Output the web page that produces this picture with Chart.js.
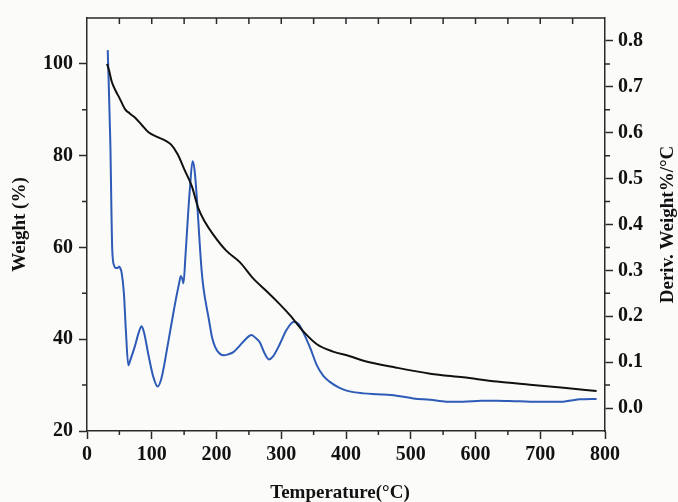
<!DOCTYPE html>
<html>
<head>
<meta charset="utf-8">
<script src="https://cdn.jsdelivr.net/npm/chart.js@4.4.1/dist/chart.umd.min.js"></script>
<style>
    html, body { margin: 0; padding: 0; background: #fbfbf9; }
    #wrap { width: 678px; height: 502px; position: relative; }
</style>
</head>
<body>
<div id="wrap"><canvas id="tgaChart"></canvas></div>
<script>
// TG-Kurve (Gewicht %, linke Achse)
const tgTemp = [31, 34, 38, 44, 50, 59, 66, 74, 84, 95, 110, 121, 130, 140, 151, 162, 172, 182, 195, 215,
    236, 257, 277, 293, 313, 334, 355, 380, 406, 427, 478, 530, 581, 633, 684, 736, 787];
const tgWeight = [100.0, 98.6, 96.2, 94.2, 92.6, 90.1, 89.2, 88.3, 86.8, 85.1, 84.0, 83.3, 82.4, 80.3, 76.8, 73.3, 68.5, 65.6, 62.8, 59.3,
    56.8, 53.2, 50.5, 48.3, 45.3, 41.7, 38.9, 37.3, 36.3, 35.3, 33.8, 32.5, 31.7, 30.8, 30.1, 29.4, 28.7];

// DTG-Kurve (Deriv. Weight %/°C, rechte Achse)
const dtgTemp = [32, 36, 39, 42, 44, 47, 49.5, 51, 53.6, 57, 60, 63.8, 67, 74, 80, 84.4, 88, 95, 102, 109,
    115, 125, 135, 142, 145, 147.5, 149, 152, 156, 159, 163, 166, 170, 174, 177, 180, 188, 193, 198, 204,
    210.5, 218, 226, 236, 245, 254, 261, 267, 274, 281, 287, 298, 308, 319.7, 327, 334, 345, 355, 365, 375,
    390, 401, 427, 450, 478, 504, 530, 555, 581, 610, 633, 660, 684, 710, 736, 750, 761, 787];
const dtgDeriv = [0.78, 0.58, 0.345, 0.31, 0.305, 0.305, 0.308, 0.306, 0.294, 0.25, 0.17, 0.093, 0.105, 0.135, 0.165, 0.178, 0.165, 0.115, 0.07, 0.047,
    0.065, 0.14, 0.22, 0.27, 0.288, 0.28, 0.272, 0.33, 0.42, 0.48, 0.538, 0.52, 0.45, 0.36, 0.30, 0.26, 0.195, 0.155, 0.133, 0.12,
    0.115, 0.117, 0.122, 0.136, 0.15, 0.159, 0.152, 0.143, 0.12, 0.106, 0.112, 0.14, 0.17, 0.188, 0.183, 0.165, 0.13, 0.093, 0.07, 0.057,
    0.044, 0.038, 0.032, 0.03, 0.027, 0.021, 0.018, 0.014, 0.014, 0.016, 0.016, 0.015, 0.014, 0.014, 0.014, 0.017, 0.019, 0.02];

// Achsenbeschriftungen
const xTicks = [0, 100, 200, 300, 400, 500, 600, 700, 800];
const xMinorTicks = [50, 150, 250, 350, 450, 550, 650, 750];
const xTopTicks = [50, 100, 150, 200, 250, 300, 350, 400, 450, 500, 550, 600, 650, 700, 750];
const yLeftTicks = [20, 40, 60, 80, 100];
const yLeftMinor = [30, 50, 70, 90];
const yRightTicks = [0.0, 0.1, 0.2, 0.3, 0.4, 0.5, 0.6, 0.7, 0.8];
const yRightMinor = [0.05, 0.15, 0.25, 0.35, 0.45, 0.55, 0.65, 0.75];

const AXIS_COLOR = '#2a2a2a';
const SERIF = '"Liberation Serif", "Times New Roman", Times, serif';

Chart.defaults.font.family = SERIF;
Chart.defaults.font.weight = 'bold';
Chart.defaults.font.size = 20;
Chart.defaults.color = '#111';

const fixTicks = (values) => (scale) => {
    scale.ticks = values.map(v => ({ value: v }));
};

// Rahmen oben, Nebenstriche, Achsentitel unten und rechts
const framePlugin = {
    id: 'frame',
    beforeDraw(chart) {
        const { ctx } = chart;
        ctx.save();
        ctx.fillStyle = '#fbfbf9';
        ctx.fillRect(0, 0, chart.width, chart.height);
        ctx.restore();
    },
    afterDraw(chart) {
        const { ctx, chartArea: a, scales } = chart;
        ctx.save();
        ctx.strokeStyle = AXIS_COLOR;
        ctx.lineWidth = 1.5;
        ctx.beginPath();
        ctx.moveTo(a.left, a.top);
        ctx.lineTo(a.right, a.top);
        xTopTicks.forEach(v => {
            const px = scales.x.getPixelForValue(v);
            ctx.moveTo(px, a.top);
            ctx.lineTo(px, a.top + 6);
        });
        xMinorTicks.forEach(v => {
            const px = scales.x.getPixelForValue(v);
            ctx.moveTo(px, a.bottom);
            ctx.lineTo(px, a.bottom + 4);
        });
        yLeftMinor.forEach(v => {
            const py = scales.y.getPixelForValue(v);
            ctx.moveTo(a.left, py);
            ctx.lineTo(a.left - 5, py);
        });
        yRightMinor.forEach(v => {
            const py = scales.y2.getPixelForValue(v);
            ctx.moveTo(a.right, py);
            ctx.lineTo(a.right + 5, py);
        });
        ctx.stroke();

        ctx.fillStyle = '#111';
        ctx.font = `bold 19px ${SERIF}`;
        ctx.textAlign = 'center';
        ctx.textBaseline = 'middle';
        ctx.fillText('Temperature(°C)', 340, 493);

        ctx.translate(668, (a.top + a.bottom) / 2);
        ctx.rotate(-Math.PI / 2);
        ctx.fillText('Deriv. Weight%/°C', 0, 0);
        ctx.restore();
    }
};

const axisGrid = {
    drawOnChartArea: false,
    tickLength: 8,
    tickColor: AXIS_COLOR,
    tickWidth: 1.5
};
const axisBorder = { color: AXIS_COLOR, width: 1.5 };

new Chart(document.getElementById('tgaChart'), {
    type: 'line',
    data: {
        datasets: [
            {
                label: 'Weight',
                data: tgTemp.map((t, i) => ({ x: t, y: tgWeight[i] })),
                borderColor: '#111111',
                borderWidth: 2,
                pointRadius: 0,
                cubicInterpolationMode: 'monotone',
                yAxisID: 'y'
            },
            {
                label: 'Deriv. Weight',
                data: dtgTemp.map((t, i) => ({ x: t, y: dtgDeriv[i] })),
                borderColor: '#2d5bb7',
                borderWidth: 2,
                pointRadius: 0,
                cubicInterpolationMode: 'monotone',
                yAxisID: 'y2'
            }
        ]
    },
    options: {
        responsive: true,
        maintainAspectRatio: false,
        animation: false,
        layout: { padding: { top: 13, left: 0, right: 0, bottom: 0 } },
        plugins: {
            legend: { display: false },
            tooltip: { enabled: false }
        },
        scales: {
            x: {
                type: 'linear',
                position: 'bottom',
                min: 0,
                max: 800,
                afterBuildTicks: fixTicks(xTicks),
                afterFit: (s) => { s.height = 71; },
                ticks: { padding: 4, maxRotation: 0, autoSkip: false },
                grid: axisGrid,
                border: axisBorder
            },
            y: {
                type: 'linear',
                position: 'left',
                min: 20,
                max: 110,
                afterBuildTicks: fixTicks(yLeftTicks),
                afterFit: (s) => { s.width = 87; },
                ticks: { padding: 6 },
                grid: axisGrid,
                border: axisBorder,
                title: {
                    display: true,
                    text: 'Weight (%)',
                    font: { size: 19, weight: 'bold', lineHeight: 1 },
                    padding: { top: 11, bottom: 0 }
                }
            },
            y2: {
                type: 'linear',
                position: 'right',
                min: -0.05,
                max: 0.85,
                afterBuildTicks: fixTicks(yRightTicks),
                afterFit: (s) => { s.width = 73; },
                ticks: { padding: 5, callback: (v) => v.toFixed(1) },
                grid: axisGrid,
                border: axisBorder
            }
        }
    },
    plugins: [framePlugin]
});
</script>
</body>
</html>
